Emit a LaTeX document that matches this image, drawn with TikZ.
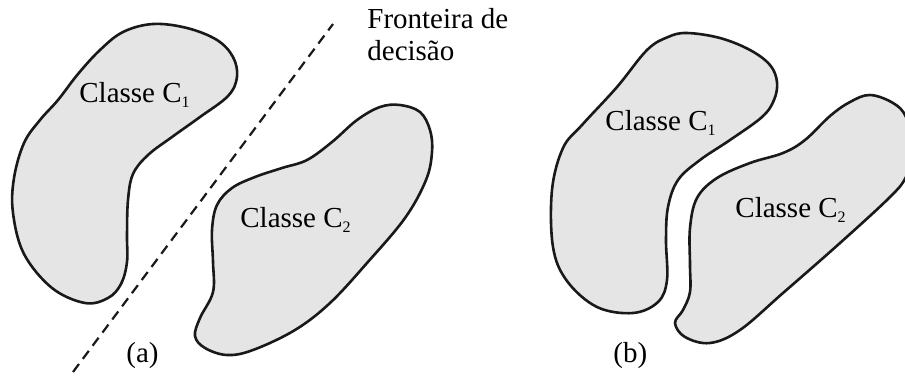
\documentclass[tikz,border=0pt]{standalone}
\usepackage{fontspec}
\setmainfont{Liberation Serif}
\tikzset{
  blob/.style={draw=black!90, line width=1.3pt, fill=black!10, line join=round},
  frontier/.style={draw=black!90, line width=1.1pt, dash pattern=on 5pt off 3.2pt},
  lbl/.style={anchor=base west, inner sep=0pt, font=\fontsize{14.5}{16}\selectfont}
}
\newcommand{\sbs}[1]{\raisebox{-2.5pt}{\fontsize{8}{8}\selectfont #1}}
\begin{document}
\begin{tikzpicture}[x=0.5pt,y=-0.5pt]
\useasboundingbox (0,0) rectangle (905,376);
% (a) class 1
\draw[blob] plot[smooth cycle, tension=0.6] coordinates {
 (153,24) (187,28) (217,40) (233,57) (237,77) (228,96) (200,117) (172,137)
 (148,155) (133,174) (128,200) (127,235) (127,262) (121,284) (108,298) (85,303)
 (52,288) (24,254) (13,213) (14,178) (24,143) (40,120) (58,100) (78,74) (100,50) (123,32)};
% (a) class 2
\draw[blob] plot[smooth cycle, tension=0.6] coordinates {
 (400,105) (420,112) (430,130) (432,152) (426,180) (405,218) (367,263) (330,303)
 (295,330) (253,350) (227,355) (205,348) (195,336) (200,318) (213,292) (213,262)
 (212,230) (217,205) (232,188) (255,177) (282,168) (307,160) (332,142) (357,120) (380,107)};
% (b) class 1
\draw[blob] plot[smooth cycle, tension=0.6] coordinates {
 (687,33) (720,38) (750,50) (770,65) (777,82) (774,100) (762,117) (730,140)
 (700,160) (678,180) (668,207) (666,240) (667,280) (658,302) (633,313) (597,307)
 (567,281) (553,247) (552,190) (563,148) (582,125) (617,87) (647,50) (668,37)};
% (b) class 2
\draw[blob] plot[smooth cycle, tension=0.6] coordinates {
 (870,95) (893,103) (906,117) (915,150) (906,177) (890,197) (840,243) (783,293)
 (740,330) (710,343) (685,337) (675,323) (683,310) (690,292) (690,265) (690,228)
 (697,198) (717,178) (750,163) (783,153) (805,140) (830,116) (850,102)};
% decision boundary
\coordinate (fb) at (73,372);
\coordinate (ft) at (333,24);
\draw[frontier] (fb) -- (ft);
% labels
\node[lbl] (fr1) at (367,28) {Fronteira de};
\node[lbl] (fr2) at (367,60) {decisão};
\node[lbl] (ac1) at (79,102) {Classe C\sbs{1}};
\node[lbl] (ac2) at (240,227) {Classe C\sbs{2}};
\node[lbl] (bc1) at (605,130) {Classe C\sbs{1}};
\node[lbl] (bc2) at (735,217) {Classe C\sbs{2}};
\node[lbl] (la) at (126,362) {(a)};
\node[lbl] (lb) at (613,362) {(b)};
\end{tikzpicture}
\end{document}
